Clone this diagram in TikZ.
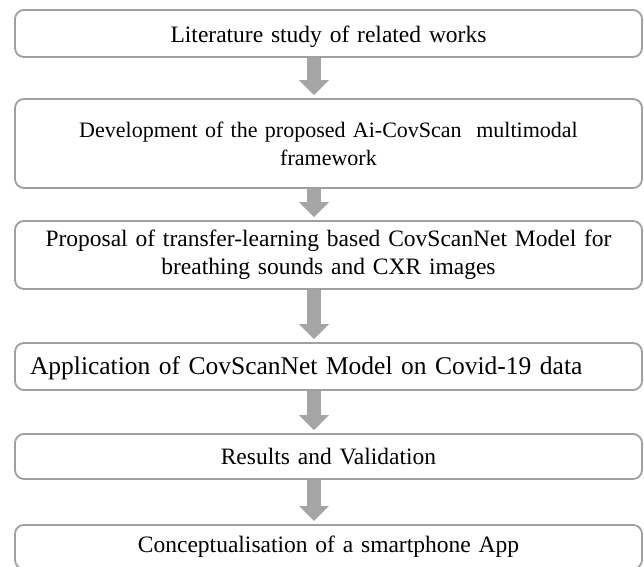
\documentclass[tikz,border=0pt]{standalone}
\usepackage{fontspec}
\setmainfont{Liberation Serif}
\usetikzlibrary{arrows.meta}
\definecolor{boxline}{RGB}{160,160,160}
\definecolor{arrowgray}{RGB}{165,165,165}
\newcommand{\stepfont}[1]{\fontsize{#1}{28}\selectfont}
% lower a single line of text inside its box without changing the box size
\newcommand{\lowerline}[2]{\raisebox{-#1}[\height][\depth]{#2}}
\tikzset{
  stepbox/.style={draw=boxline, line width=1.8pt, rounded corners=9pt, fill=white,
    minimum width=627pt, inner xsep=15pt, inner ysep=0pt, text width=597pt,
    align=center, font=\stepfont{23.5}, text=black},
  flowarrow/.style={draw=arrowgray, line width=14.5pt,
    -{Triangle[length=15pt, width=29pt]}, shorten >=3pt}
}
\begin{document}
\begin{tikzpicture}[x=1pt, y=1pt]
  \useasboundingbox (0,0) rectangle (644,-566);
  \clip (0,0) rectangle (644,-566);
  \fill[white] (0,0) rectangle (644,-566);

  \node[stepbox, minimum height=47pt] (s1) at (328.5,-33.5)
    {\lowerline{3pt}{Literature study of related works}};
  \node[stepbox, minimum height=89pt, font=\stepfont{22}] (s2) at (328.5,-143.5)
    {Development of the proposed Ai-CovScan\ \ multimodal\\framework};
  \node[stepbox, minimum height=68pt] (s3) at (328.5,-255)
    {Proposal of transfer-learning based CovScanNet Model for\\breathing sounds and CXR images};
  \node[stepbox, minimum height=47pt, align=left, font=\stepfont{25.5}] (s4) at (328.5,-366.5)
    {\lowerline{1.5pt}{Application of CovScanNet Model on Covid-19 data}};
  \node[stepbox, minimum height=45pt] (s5) at (328.5,-456.5)
    {Results and Validation};
  \node[stepbox, minimum height=44pt, anchor=north] (s6) at (328.5,-524)
    {Conceptualisation of a smartphone App};

  % vertical axis shared by the flow arrows
  \coordinate (ax) at (314,0);
  \draw[flowarrow] (s1.south -| ax) -- (s2.north -| ax);
  \draw[flowarrow] (s2.south -| ax) -- (s3.north -| ax);
  \draw[flowarrow] (s3.south -| ax) -- (s4.north -| ax);
  \draw[flowarrow] (s4.south -| ax) -- (s5.north -| ax);
  \draw[flowarrow] (s5.south -| ax) -- (s6.north -| ax);
\end{tikzpicture}
\end{document}
